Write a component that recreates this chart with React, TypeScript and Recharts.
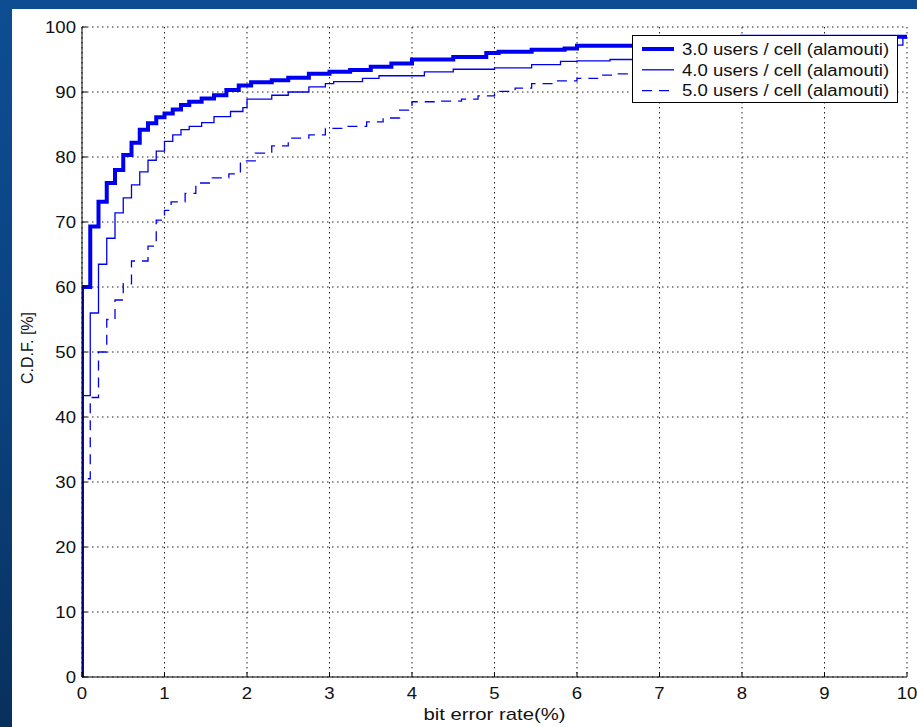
import React from 'react';
import { LineChart, Line, XAxis, YAxis, CartesianGrid, Legend, Label } from 'recharts';

// tick labels
const xTicks = [0, 1, 2, 3, 4, 5, 6, 7, 8, 9, 10];
const yTicks = [0, 10, 20, 30, 40, 50, 60, 70, 80, 90, 100];

// 3.0 users / cell
const berA = [0, 0, 0.1, 0.2, 0.3, 0.4, 0.5, 0.6, 0.7, 0.8, 0.9, 1.0, 1.1, 1.2, 1.3, 1.45, 1.6, 1.75, 1.9, 2.05, 2.3, 2.5, 2.75, 3.0, 3.25, 3.5, 3.75, 4.0, 4.5, 4.9, 5.05, 5.45, 5.85, 6.0, 8.0, 10];
const cdfA = [0, 60, 69.3, 73.1, 76, 78, 80.3, 82.2, 84.2, 85.2, 86.1, 86.7, 87.3, 88, 88.5, 89, 89.5, 90.3, 91, 91.5, 91.8, 92.2, 92.8, 93.1, 93.4, 93.9, 94.4, 95, 95.4, 96, 96.2, 96.5, 96.7, 97.1, 98.5, 98.5];

// 4.0 users / cell
const berB = [0, 0, 0.1, 0.2, 0.3, 0.4, 0.5, 0.6, 0.7, 0.8, 0.9, 1.0, 1.1, 1.2, 1.3, 1.45, 1.6, 1.8, 1.95, 2.0, 2.3, 2.5, 2.75, 2.95, 3.05, 3.4, 3.6, 4.15, 4.5, 5.0, 5.45, 5.8, 6.0, 6.4, 9.0, 9.95, 10];
const cdfB = [0, 43.3, 56, 63.5, 67.5, 71.4, 73.7, 75.7, 77.7, 79.5, 80.9, 82.4, 83.4, 84.2, 84.7, 85.3, 86.2, 87, 87.6, 88.9, 89.5, 90, 90.8, 91.3, 91.6, 92.1, 92.5, 93.1, 93.5, 93.7, 94.2, 94.7, 94.8, 95, 97.2, 98.3, 98.3];

// 5.0 users / cell
const berC = [0, 0, 0.1, 0.2, 0.3, 0.4, 0.5, 0.6, 0.8, 0.9, 1.0, 1.08, 1.25, 1.38, 1.58, 1.78, 1.92, 2.1, 2.3, 2.5, 2.75, 2.95, 3.2, 3.45, 3.65, 3.85, 4.0, 4.3, 4.6, 4.8, 5.0, 5.25, 5.45, 5.75, 6.0, 6.25, 6.5, 9.5];
const cdfC = [0, 30.5, 43, 50, 55, 58, 60.5, 64, 66.3, 70.3, 71.8, 73.1, 74.4, 76, 76.8, 77.4, 79.4, 80.6, 81.7, 82.9, 83.4, 84.4, 84.7, 85.4, 86, 87.2, 88.5, 88.6, 88.9, 89.4, 90.1, 90.6, 91.3, 91.7, 92.1, 92.6, 92.8, 95];

const seriesNames = ['3.0 users / cell (alamouti)', '4.0 users / cell (alamouti)', '5.0 users / cell (alamouti)'];

const toPoints = (xs: number[], ys: number[]) => xs.map((x, i) => ({ x, y: ys[i] }));

const series = [
  { name: seriesNames[0], data: toPoints(berA, cdfA), width: 4, dash: undefined as string | undefined },
  { name: seriesNames[1], data: toPoints(berB, cdfB), width: 1.3, dash: undefined as string | undefined },
  { name: seriesNames[2], data: toPoints(berC, cdfC), width: 1.3, dash: '10 7' },
];

const FONT = '"Liberation Sans", Arial, Helvetica, sans-serif';
const STRETCH = 1.16; // the screenshot is a bit wider than tall
const BLUE = '#0000f0';

function XTick(props: any) {
  const { x, y, payload } = props;
  return (
    <g>
      <line x1={x} x2={x} y1={y} y2={y - 5} stroke="#000" />
      <text transform={`translate(${x},${y + 21.5}) scale(${STRETCH},1)`} textAnchor="middle" fontSize={16} fontFamily={FONT} fill="#111">
        {payload.value}
      </text>
    </g>
  );
}

function YTick(props: any) {
  const { x, y, payload } = props;
  return (
    <g>
      <line x1={x} x2={x + 5} y1={y} y2={y} stroke="#000" />
      <text transform={`translate(${x - 6},${y + 5.8}) scale(${STRETCH},1)`} textAnchor="end" fontSize={16} fontFamily={FONT} fill="#111">
        {payload.value}
      </text>
    </g>
  );
}

function XLabel(props: any) {
  const vb = props.viewBox;
  return (
    <text transform={`translate(${vb.x + vb.width / 2},${vb.y + 43}) scale(1.27,1)`} textAnchor="middle" fontSize={16} fontFamily={FONT} fill="#111">
      bit error rate(%)
    </text>
  );
}

function YLabel(props: any) {
  const vb = props.viewBox;
  const cx = vb.x + 5;
  const cy = vb.y + vb.height / 2 - 4;
  return (
    <text transform={`translate(${cx},${cy}) rotate(-90)`} textAnchor="middle" dominantBaseline="central" fontSize={16} fontFamily={FONT} fill="#111">
      C.D.F.  [%]
    </text>
  );
}

function LegendBox() {
  return (
    <svg width={266} height={68} style={{ display: 'block' }}>
      <rect x={0.5} y={0.5} width={265} height={67} fill="#fff" stroke="#000" />
      {series.map((s, i) => {
        const cy = 14 + i * 20.8;
        return (
          <g key={s.name}>
            <line x1={10} x2={42} y1={cy} y2={cy} stroke={BLUE} strokeWidth={s.width} strokeDasharray={s.dash} />
            <text transform={`translate(50,${cy + 5.8}) scale(${STRETCH},1)`} fontSize={16} fontFamily={FONT} fill="#111">
              {s.name}
            </text>
          </g>
        );
      })}
    </svg>
  );
}

export default function App() {
  return (
    <div
      style={{
        position: 'absolute',
        left: 0,
        top: 0,
        width: 917,
        height: 727,
        background: 'linear-gradient(180deg, #0e4d93 0%, #0b417e 55%, #08305c 100%)',
        overflow: 'hidden',
      }}
    >
      <div style={{ position: 'absolute', left: 12, top: 9, width: 905, height: 718, background: '#fff' }}>
        <LineChart width={905} height={718} margin={{ top: 18, right: 10, left: 10, bottom: 20 }}>
          <CartesianGrid stroke="#222" strokeDasharray="1.5 3.5" />
          <XAxis
            type="number"
            dataKey="x"
            domain={[0, 10]}
            ticks={xTicks}
            height={30}
            tickSize={0}
            tickMargin={0}
            tickLine={false}
            tick={<XTick />}
            axisLine={{ stroke: '#000' }}
            allowDataOverflow
          >
            <Label content={<XLabel />} />
          </XAxis>
          <YAxis
            type="number"
            domain={[0, 100]}
            ticks={yTicks}
            width={60}
            tickSize={0}
            tickMargin={0}
            tickLine={false}
            tick={<YTick />}
            axisLine={{ stroke: '#000' }}
            allowDataOverflow
          >
            <Label content={<YLabel />} />
          </YAxis>
          {series
            .slice()
            .reverse()
            .map((s) => (
              <Line
                key={s.name}
                name={s.name}
                data={s.data}
                dataKey="y"
                type="stepAfter"
                stroke={BLUE}
                strokeWidth={s.width}
                strokeDasharray={s.dash}
                dot={false}
                activeDot={false}
                isAnimationActive={false}
              />
            ))}
          <Legend
            layout="vertical"
            align="center"
            verticalAlign="middle"
            content={<LegendBox />}
            wrapperStyle={{ position: 'absolute', left: 620, top: 26, width: 266, height: 68 }}
          />
        </LineChart>
      </div>
    </div>
  );
}
